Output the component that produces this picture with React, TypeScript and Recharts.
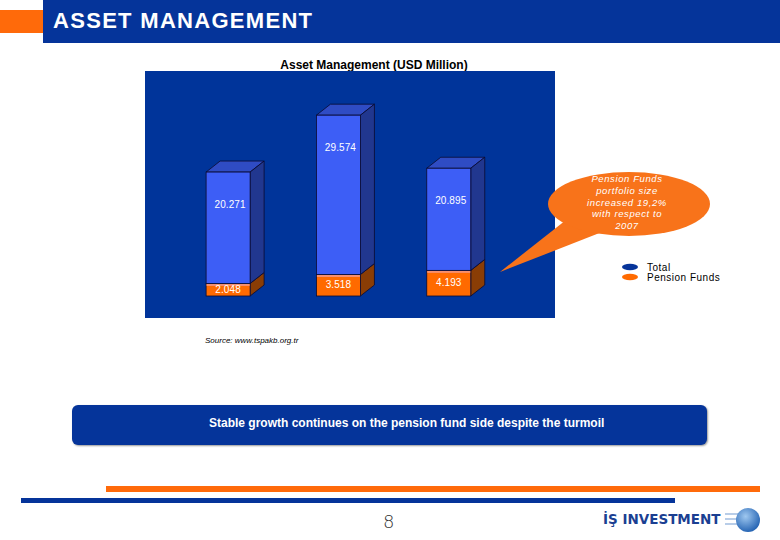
import React from 'react';
import { BarChart, Bar, XAxis, YAxis, Legend, LabelList } from 'recharts';

// years behind the three bars (no axis labels are shown in the slide)
const years = ['2006', '2007', '2008'];
const totalValues = [20271, 29574, 20895];
const pensionValues = [2048, 3518, 4193];

const chartData = years.map((year, i) => ({
  year,
  pension: pensionValues[i],
  rest: totalValues[i] - pensionValues[i],
  total: totalValues[i],
}));

const DX = 14;
const DY = 11;

const fmt = (v: number) => String(v).replace(/\B(?=(\d{3})+(?!\d))/g, '.');

const BlueBox = (props: any) => {
  const { x, y, width: w, height: h } = props;
  if (h == null || w == null) return null;
  return (
    <g stroke="#0a0a30" strokeWidth={0.8}>
      <polygon points={`${x},${y} ${x + DX},${y - DY} ${x + w + DX},${y - DY} ${x + w},${y}`} fill="#2f4cc4" />
      <polygon points={`${x + w},${y} ${x + w + DX},${y - DY} ${x + w + DX},${y + h - DY} ${x + w},${y + h}`} fill="#21378f" />
      <rect x={x} y={y} width={w} height={h} fill="#3d5ef6" />
    </g>
  );
};

const OrangeBox = (props: any) => {
  const { x, y, width: w, height: h } = props;
  if (h == null || w == null) return null;
  return (
    <g stroke="#0a0a30" strokeWidth={0.8}>
      <polygon points={`${x + w},${y} ${x + w + DX},${y - DY} ${x + w + DX},${y + h - DY} ${x + w},${y + h}`} fill="#8a3d05" />
      <rect x={x} y={y} width={w} height={h} fill="#ff6a00" />
      <rect x={x + 0.5} y={y + 0.5} width={w - 1} height={2} fill="#f59070" stroke="none" />
    </g>
  );
};

const TotalLabel = (props: any) => {
  const { x, y, width, value } = props;
  return (
    <text x={x + width / 2 + 2} y={y + 36} fill="#fff" fontSize={10} textAnchor="middle"
      fontFamily="'Liberation Sans', Arial, sans-serif" letterSpacing={0.1}>
      {fmt(value)}
    </text>
  );
};

const PensionLabel = (props: any) => {
  const { x, y, width, height, value } = props;
  return (
    <text x={x + width / 2} y={y + height / 2 + 3} fill="#fff" fontSize={10} textAnchor="middle"
      fontFamily="'Liberation Sans', Arial, sans-serif" letterSpacing={0.1}>
      {fmt(value)}
    </text>
  );
};

const LegendBox = (props: any) => {
  const items = [...(props.payload || [])].reverse();
  return (
    <div style={{ fontFamily: "'Liberation Sans', Arial, sans-serif", fontSize: 10, letterSpacing: 0.5, color: '#000' }}>
      {items.map((it: any) => (
        <div key={it.value} style={{ display: 'flex', alignItems: 'center', height: 10 }}>
          <svg width={18} height={8} style={{ marginRight: 7 }}>
            <ellipse cx={8} cy={4} rx={8} ry={3.2} fill={it.value === 'Total' ? '#06349a' : '#ff6a00'} />
          </svg>
          <span>{it.value}</span>
        </div>
      ))}
    </div>
  );
};

export default function App() {
  return (
    <div style={{ position: 'relative', width: 780, height: 540, background: '#fff', overflow: 'hidden', fontFamily: "'Liberation Sans', Arial, sans-serif" }}>
      <style>{'body{margin:0}'}</style>

      {/* header */}
      <div style={{ position: 'absolute', left: 0, top: 10, width: 43, height: 23, background: '#ff6a0a' }} />
      <div style={{ position: 'absolute', left: 43, top: 0, width: 737, height: 43, background: '#05349a' }} />
      <div style={{ position: 'absolute', left: 53, top: 8, color: '#fff', fontSize: 22, fontWeight: 'bold', letterSpacing: 1.3 }}>
        ASSET MANAGEMENT
      </div>

      {/* chart title */}
      <div style={{ position: 'absolute', left: 264, top: 58, width: 220, textAlign: 'center', fontSize: 12, fontWeight: 'bold', color: '#000' }}>
        Asset Management (USD Million)
      </div>

      <div style={{ position: 'absolute', left: 145, top: 71, width: 410, height: 247, background: '#00349a' }}>
        <BarChart
          width={410}
          height={247}
          data={chartData}
          margin={{ top: 11, right: 51, left: 28, bottom: 22 }}
          barCategoryGap="30%"
        >
          <XAxis dataKey="year" hide />
          <YAxis hide domain={[0, 35000]} />
          <Legend
            layout="horizontal"
            verticalAlign="middle"
            align="center"
            content={<LegendBox />}
            wrapperStyle={{ left: 477, top: 191, width: 130, height: 22 }}
          />
          <Bar dataKey="pension" name="Pension Funds" stackId="a" fill="#ff6a00" shape={<OrangeBox />} isAnimationActive={false}>
            <LabelList dataKey="pension" content={<PensionLabel />} />
          </Bar>
          <Bar dataKey="rest" name="Total" stackId="a" fill="#06349a" shape={<BlueBox />} isAnimationActive={false}>
            <LabelList dataKey="total" content={<TotalLabel />} />
          </Bar>
        </BarChart>
      </div>

      {/* callout */}
      <svg width={780} height={540} style={{ position: 'absolute', left: 0, top: 0, pointerEvents: 'none' }}>
        <polygon points="500,272 566,220 602,232" fill="#f8731a" />
        <ellipse cx={629} cy={204} rx={81} ry={32} fill="#f8731a" />
        <g fill="#fff" fontSize={9.5} fontStyle="italic" textAnchor="middle" letterSpacing={0.6} fontFamily="'Liberation Sans', Arial, sans-serif">
          <text x={627} y={182}>Pension Funds</text>
          <text x={627} y={194}>portfolio size</text>
          <text x={627} y={206}>increased 19,2%</text>
          <text x={627} y={217}>with respect to</text>
          <text x={627} y={229}>2007</text>
        </g>
      </svg>

      <div style={{ position: 'absolute', left: 205, top: 336, fontSize: 8, fontStyle: 'italic', color: '#000' }}>
        Source: www.tspakb.org.tr
      </div>

      {/* message box */}
      <div style={{ position: 'absolute', left: 72, top: 405, width: 635, height: 40, background: '#05349a', borderRadius: 6, boxShadow: '1px 1px 2px #999' }} />
      <div style={{ position: 'absolute', left: 209, top: 416, color: '#fff', fontSize: 12, fontWeight: 'bold' }}>
        Stable growth continues on the pension fund side despite the turmoil
      </div>

      {/* footer */}
      <div style={{ position: 'absolute', left: 106, top: 486, width: 654, height: 6, background: '#ff6a0a' }} />
      <div style={{ position: 'absolute', left: 21, top: 498, width: 654, height: 5, background: '#05349a' }} />
      <div style={{ position: 'absolute', left: 383, top: 511, fontSize: 18, color: '#333', fontFamily: "'DejaVu Sans', sans-serif", fontWeight: 300 }}>
        8
      </div>
      <div style={{ position: 'absolute', left: 603, top: 511, fontSize: 13.5, fontWeight: 'bold', color: '#1b3f92', fontFamily: "'DejaVu Sans', sans-serif" }}>
        İŞ INVESTMENT
      </div>
      <svg width={40} height={30} style={{ position: 'absolute', left: 725, top: 506 }}>
        <defs>
          <radialGradient id="globe" cx="40%" cy="35%" r="70%">
            <stop offset="0%" stopColor="#9fc8f0" />
            <stop offset="100%" stopColor="#1f5fb0" />
          </radialGradient>
        </defs>
        <rect x={0} y={7} width={14} height={2} fill="#b8cde8" />
        <rect x={0} y={12} width={14} height={2} fill="#b8cde8" />
        <rect x={0} y={17} width={14} height={2} fill="#b8cde8" />
        <circle cx={23} cy={14} r={12} fill="url(#globe)" />
      </svg>
    </div>
  );
}
